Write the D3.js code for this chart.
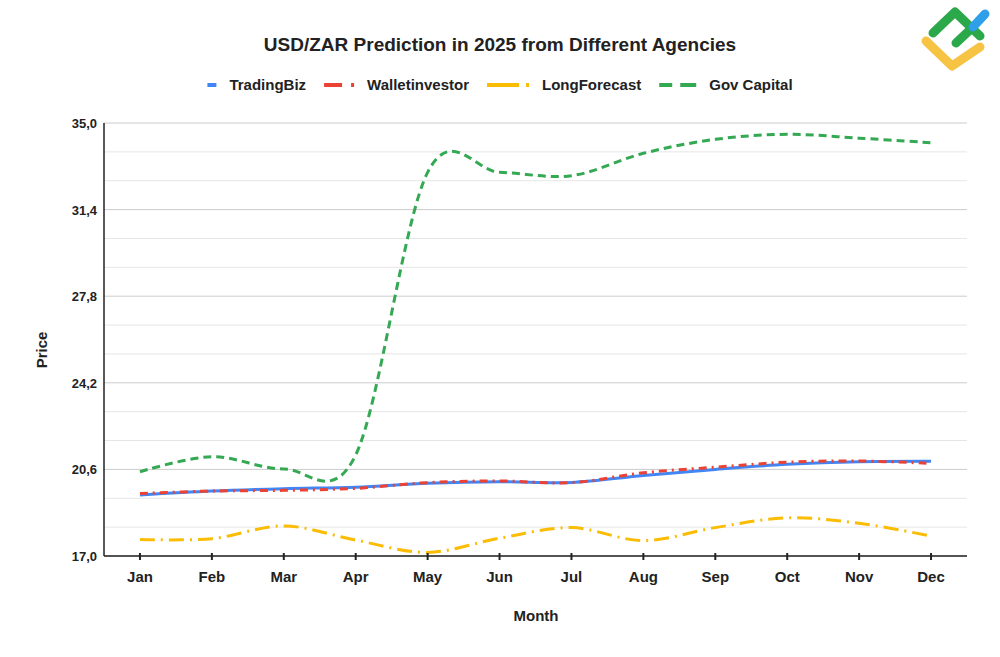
<!DOCTYPE html>
<html>
<head>
<meta charset="utf-8">
<script src="https://cdn.jsdelivr.net/npm/d3@7"></script>
<style>
  body { margin: 0; background: #fff; }
  svg { font-family: "Liberation Sans", Arial, sans-serif; }
</style>
</head>
<body>
<div id="chart"></div>
<script>
// values
const months = ["Jan", "Feb", "Mar", "Apr", "May", "Jun", "Jul", "Aug", "Sep", "Oct", "Nov", "Dec"];
const tradingBiz     = [19.54, 19.70, 19.80, 19.86, 20.02, 20.09, 20.06, 20.35, 20.60, 20.81, 20.92, 20.94];
const walletInvestor = [19.60, 19.70, 19.73, 19.81, 20.05, 20.12, 20.05, 20.46, 20.69, 20.90, 20.95, 20.85];
const longForecast   = [17.69, 17.72, 18.25, 17.66, 17.15, 17.74, 18.18, 17.64, 18.18, 18.59, 18.36, 17.83];
const govCapital     = [20.50, 21.13, 20.62, 21.20, 32.95, 32.95, 32.81, 33.74, 34.32, 34.53, 34.37, 34.18];
const yTicks = [17.0, 20.6, 24.2, 27.8, 31.4, 35.0];
const yGrid = d3.range(17, 35.01, 1.2);

const series = [
  { name: "TradingBiz", values: tradingBiz, color: "#4285f4", dash: null, legendDash: null, legendLen: 9 },
  { name: "Walletinvestor", values: walletInvestor, color: "#ea4335", dash: "8,5,2,5", legendDash: "18,9,3,9", legendLen: 30 },
  { name: "LongForecast", values: longForecast, color: "#fbbc04", dash: "15,6,2,6", legendDash: "32,7,3,9", legendLen: 42 },
  { name: "Gov Capital", values: govCapital, color: "#34a853", dash: "8,5", legendDash: "13,8,16,8", legendLen: 37 }
];

const width = 1000, height = 657;
const plotLeft = 104, plotRight = 967, plotTop = 123, plotBottom = 556;

const svg = d3.select("#chart").append("svg")
  .attr("width", width)
  .attr("height", height);

const x = d3.scalePoint().domain(months).range([plotLeft, plotRight]).padding(0.5);
const y = d3.scaleLinear().domain([17, 35]).range([plotBottom, plotTop]);
const fmt = v => d3.format(".1f")(v).replace(".", ",");

// gridlines
svg.append("g").selectAll("line")
  .data(yGrid)
  .join("line")
  .attr("x1", plotLeft).attr("x2", plotRight)
  .attr("y1", d => y(d)).attr("y2", d => y(d))
  .attr("stroke", (d, i) => i % 3 === 0 ? "#cccccc" : "#e6e6e6")
  .attr("stroke-width", 1);

// y axis labels
svg.append("g").selectAll("text")
  .data(yTicks)
  .join("text")
  .attr("x", plotLeft - 7)
  .attr("y", d => y(d) + 5)
  .attr("text-anchor", "end")
  .attr("font-size", 13)
  .attr("font-weight", "bold")
  .attr("fill", "#222")
  .text(fmt);

// lines
const line = d3.line()
  .x((d, i) => x(months[i]))
  .y(d => y(d))
  .curve(d3.curveCatmullRom.alpha(0));

svg.append("g").selectAll("path")
  .data(series)
  .join("path")
  .attr("fill", "none")
  .attr("stroke", d => d.color)
  .attr("stroke-width", 3)
  .attr("stroke-dasharray", d => d.dash)
  .attr("d", d => line(d.values));

// axes lines
svg.append("line")
  .attr("x1", plotLeft).attr("x2", plotLeft).attr("y1", plotTop).attr("y2", plotBottom)
  .attr("stroke", "#222").attr("stroke-width", 1.5);
svg.append("line")
  .attr("x1", plotLeft).attr("x2", plotRight).attr("y1", plotBottom).attr("y2", plotBottom)
  .attr("stroke", "#222").attr("stroke-width", 1.5);

// x ticks + labels
const xt = svg.append("g").selectAll("g")
  .data(months)
  .join("g")
  .attr("transform", d => `translate(${x(d)},0)`);
xt.append("line")
  .attr("y1", plotBottom - 3).attr("y2", plotBottom + 4)
  .attr("stroke", "#222").attr("stroke-width", 2);
xt.append("text")
  .attr("y", plotBottom + 26)
  .attr("text-anchor", "middle")
  .attr("font-size", 15)
  .attr("font-weight", "bold")
  .attr("fill", "#222")
  .text(d => d);

// axis titles
svg.append("text")
  .attr("x", 536).attr("y", 621)
  .attr("text-anchor", "middle")
  .attr("font-size", 15).attr("font-weight", "bold").attr("fill", "#222")
  .text("Month");
svg.append("text")
  .attr("transform", "translate(47,350) rotate(-90)")
  .attr("text-anchor", "middle")
  .attr("font-size", 15).attr("font-weight", "bold").attr("fill", "#222")
  .text("Price");

// title
svg.append("text")
  .attr("x", 500).attr("y", 51)
  .attr("text-anchor", "middle")
  .attr("font-size", 19).attr("font-weight", "bold").attr("fill", "#222")
  .text("USD/ZAR Prediction in 2025 from Different Agencies");

// legend
const legend = svg.append("g");
let cx = 0;
series.forEach(s => {
  const g = legend.append("g").attr("transform", `translate(${cx},0)`);
  g.append("line")
    .attr("x1", 0).attr("x2", s.legendLen)
    .attr("stroke", s.color).attr("stroke-width", 4)
    .attr("stroke-dasharray", s.legendDash);
  const t = g.append("text")
    .attr("x", s.legendLen + 13).attr("y", 5)
    .attr("font-size", 15).attr("font-weight", "bold").attr("fill", "#222")
    .text(s.name);
  cx += s.legendLen + 13 + t.node().getComputedTextLength() + 18;
});
legend.attr("transform", `translate(${500 - (cx - 18) / 2},85)`);

// logo
const logo = svg.append("g")
  .attr("fill", "none")
  .attr("stroke-linecap", "round")
  .attr("stroke-linejoin", "round")
  .attr("stroke-width", 9);
logo.append("path").attr("d", "M926,41 L952,66 L980,47").attr("stroke", "#f6c343");
logo.append("path").attr("d", "M933,33 L955,12 L980,36").attr("stroke", "#2ba84a");
logo.append("path").attr("d", "M956,43 L972,28").attr("stroke", "#2ba84a");
logo.append("path").attr("d", "M973,27 L985,14").attr("stroke", "#2e9fe8");
</script>
</body>
</html>
